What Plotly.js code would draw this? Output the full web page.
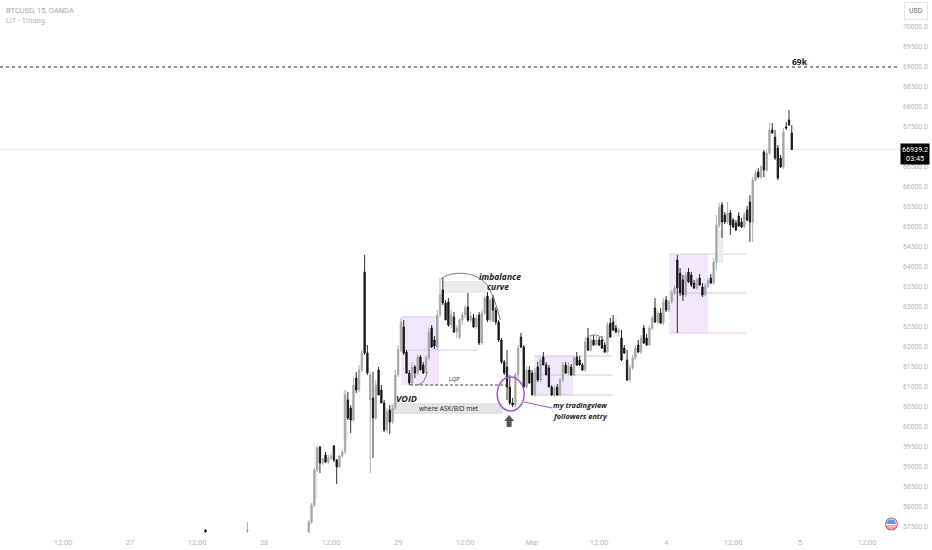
<!DOCTYPE html>
<html>
<head>
<meta charset="utf-8">
<title>BTCUSD, 15, OANDA</title>
<script src="https://cdn.plot.ly/plotly-3.0.1.min.js"></script>
<style>
  html, body { margin: 0; padding: 0; background: #fff; }
  #chart { width: 932px; height: 550px; }
</style>
</head>
<body>
<div id="chart"></div>
<script>
// hours counted from the "27" session label on the time axis (weekend is skipped)
const barHours = [13.5, 21,
  32, 32.5, 33, 33.5, 34, 34.5, 35, 35.5, 36, 36.5, 37, 37.5, 38, 38.5, 39, 39.5, 40, 40.5, 41, 41.5,
  42, 42.5, 43, 43.5, 44, 44.5, 45, 45.5, 46, 46.5, 47, 47.5, 48, 48.5, 49, 49.5, 50, 50.5, 51, 51.5,
  52, 52.5, 53, 53.5, 54, 54.5, 55, 55.5, 56, 56.5, 57, 57.5, 58, 58.5, 59, 59.5, 60, 60.5, 61, 61.5,
  62, 62.5, 63, 63.5, 64, 64.5, 65, 65.5, 66, 66.5, 67, 67.5, 68, 68.5, 69, 69.5, 70, 70.5, 71, 71.5,
  72, 72.5, 73, 73.5, 74, 74.5, 75, 75.5, 76, 76.5, 77, 77.5, 78, 78.5, 79, 79.5, 80, 80.5, 81, 81.5,
  82, 82.5, 83, 83.5, 84, 84.5, 85, 85.5, 86, 86.5, 87, 87.5, 88, 88.5, 89, 89.5, 90, 90.5, 91, 91.5,
  92, 92.5, 93, 93.5, 94, 94.5, 95, 95.5, 96, 96.5, 97, 97.5, 98, 98.5, 99, 99.5, 100, 100.5, 101, 101.5,
  102, 102.5, 103, 103.5, 104, 104.5, 105, 105.5, 106, 106.5, 107, 107.5, 108, 108.5, 109, 109.5, 110, 110.5, 111, 111.5,
  112, 112.5, 113, 113.5, 114, 114.5, 115, 115.5, 116, 116.5, 117, 117.5, 118, 118.5];

const opens = [57425, 57400,
  57375, 57625, 58050, 58925, 59500, 59100, 59300, 59125, 59225, 59525, 59175, 59000, 59275, 59375, 60675, 60475, 60175, 61225, 60925, 61425,
  63875, 61850, 60675, 60725, 60225, 61425, 60925, 60600, 59925, 60425, 60125, 60475, 61300, 61925, 62500, 61875, 61350, 61100, 61500, 61350,
  61750, 61550, 61375, 61725, 62475, 62175, 62000, 62800, 63425, 63100, 63125, 62550, 62750, 62375, 62250, 62675, 62800, 63000, 62675, 62725,
  62500, 62800, 62100, 62850, 63275, 62675, 63225, 62925, 62625, 62175, 61625, 61500, 61000, 60600, 60550, 61300, 62250, 62000, 61000, 61425,
  61350, 60800, 61500, 61175, 61750, 61550, 61475, 61000, 60800, 61000, 60800, 61175, 61550, 61350, 61500, 61300, 61750, 61675, 61550, 61425,
  62225, 61925, 62175, 62050, 62175, 62175, 62050, 61875, 62600, 62625, 62475, 62375, 62225, 61975, 61675, 61175, 61475, 61725, 62050, 61875,
  62475, 62225, 62050, 62475, 62975, 62625, 62850, 62600, 63175, 62925, 63125, 63350, 64175, 63850, 63675, 63300, 63875, 63800, 63600, 63475,
  63725, 63500, 63300, 63525, 63725, 63600, 64125, 65050, 65550, 65300, 65125, 65350, 65175, 65100, 65275, 65125, 65000, 65425, 65625, 65125,
  66175, 66375, 66250, 66875, 66425, 66850, 67425, 67250, 66975, 66725, 66500, 67500, 67675, 67350];

const highs = [57450, 57625,
  57675, 58100, 58975, 59525, 59525, 59225, 59375, 59300, 59325, 59550, 59200, 59300, 59425, 60925, 60875, 60550, 61225, 61375, 61550, 61925,
  64300, 62050, 61375, 61375, 61175, 61500, 61050, 60675, 60475, 60550, 60550, 61425, 62050, 62725, 62675, 61925, 61425, 61625, 61550, 61800,
  61800, 61625, 61800, 62475, 62550, 62275, 62925, 63725, 63725, 63175, 63225, 62925, 62875, 62550, 62725, 62875, 63050, 63350, 62875, 62825,
  62800, 62875, 62925, 63275, 63375, 63225, 63300, 63000, 62675, 62225, 61675, 61925, 61300, 60725, 61375, 62050, 62350, 62050, 61525, 61525,
  61425, 61475, 61625, 61725, 61875, 61625, 61550, 61050, 61050, 61075, 61225, 61625, 61625, 61625, 61575, 61775, 61875, 61775, 61600, 62225,
  62475, 62275, 62300, 62275, 62250, 62275, 62125, 62625, 62725, 62800, 62550, 62475, 62425, 62050, 61925, 61550, 61800, 62050, 62175, 62300,
  62550, 62325, 62550, 62800, 63225, 62925, 62975, 63225, 63275, 63175, 63425, 63550, 64300, 63975, 63800, 63875, 63975, 63875, 63675, 63725,
  63825, 63600, 63600, 63725, 63825, 64225, 65300, 65600, 65625, 65375, 65625, 65425, 65225, 65175, 65375, 65225, 65375, 65525, 65800, 66250,
  66425, 66475, 66550, 66925, 66925, 67600, 67600, 67425, 67050, 66800, 67475, 67625, 67925, 67550];

const lows = [57375, 57350,
  57350, 57575, 58000, 58875, 58850, 59050, 59100, 59075, 59175, 59125, 58575, 58975, 59225, 59325, 60175, 59850, 60125, 60850, 60875, 61375,
  61800, 61300, 58850, 59225, 60175, 60800, 60600, 59875, 59850, 59825, 60075, 60425, 61250, 61875, 61800, 61325, 61050, 61050, 61225, 61300,
  61425, 61325, 61325, 61675, 61975, 61950, 61925, 62750, 63050, 62675, 62500, 62475, 62350, 62225, 62200, 62550, 62725, 62625, 62625, 62475,
  62450, 62050, 62050, 62800, 62625, 62625, 62625, 62550, 62125, 61575, 61300, 60675, 60550, 60500, 60500, 61225, 61975, 60975, 60950, 61075,
  60800, 60750, 61125, 61125, 61550, 61300, 61000, 60775, 60750, 60775, 60775, 61125, 61325, 61300, 61275, 61275, 61525, 61525, 61400, 61375,
  61900, 61900, 62025, 62025, 62025, 61950, 61850, 61850, 62225, 62400, 62350, 62275, 61650, 61825, 61150, 61125, 61425, 61675, 61850, 61825,
  62075, 62025, 62025, 62425, 62600, 62575, 62575, 62550, 62875, 62875, 63075, 63300, 62350, 63275, 63150, 63250, 63600, 63500, 63450, 63425,
  63525, 63250, 63275, 63475, 63575, 63550, 63925, 64975, 64725, 65075, 65075, 64800, 64975, 64900, 65000, 64975, 64975, 65150, 64625, 64625,
  66125, 66225, 66200, 66250, 66375, 66800, 67325, 66675, 66175, 66475, 66450, 67425, 67525, 66925];

const closes = [57375, 57425,
  57625, 58050, 58925, 59475, 59100, 59200, 59125, 59225, 59275, 59175, 59000, 59275, 59375, 60800, 60225, 60175, 61050, 60925, 61425, 61850,
  61850, 61350, 61300, 60225, 61050, 60800, 60600, 59925, 60375, 60125, 60475, 61300, 61925, 62625, 61850, 61350, 61100, 61500, 61350, 61750,
  61425, 61350, 61725, 62375, 62000, 62025, 62800, 63300, 63100, 62675, 62550, 62800, 62375, 62475, 62675, 62800, 62975, 62675, 62775, 62500,
  62725, 62100, 62850, 63225, 62675, 63175, 62925, 62625, 62175, 61625, 61350, 61000, 60600, 60550, 61300, 61975, 62000, 61000, 61425, 61100,
  60800, 61375, 61175, 61675, 61550, 61300, 61000, 60800, 60975, 60800, 61175, 61550, 61350, 61525, 61300, 61725, 61550, 61550, 61425, 62125,
  61925, 62175, 62050, 62175, 62050, 61975, 61875, 62550, 62250, 62425, 62375, 62425, 61675, 61850, 61175, 61475, 61725, 61975, 61875, 62225,
  62100, 62050, 62475, 62725, 62625, 62850, 62600, 63125, 62925, 63125, 63350, 63475, 63475, 63350, 63300, 63800, 63625, 63550, 63475, 63675,
  63550, 63300, 63525, 63675, 63600, 64125, 65050, 65500, 65125, 65125, 65350, 65050, 65000, 64925, 65025, 65000, 65325, 65175, 65125, 66175,
  66350, 66250, 66500, 66425, 66850, 67425, 67350, 66725, 66225, 66500, 67375, 67475, 67550, 66939.2];

const priceTicks = [57500, 58000, 58500, 59000, 59500, 60000, 60500, 61000, 61500, 62000, 62500, 63000, 63500,
  64000, 64500, 65000, 65500, 66000, 66500, 67500, 68000, 68500, 69000, 69500, 70000];
const timeTicks = [-12, 0, 12, 24, 36, 48, 60, 72, 84, 96, 108, 120, 132];
const timeLabels = ["12:00", "27", "12:00", "28", "12:00", "29", "12:00", "Mar", "12:00", "4", "12:00", "5", "12:00"];

const targetPrice = 69000;
const lastPrice = 66939.2;

const grayColor = "#a6a6a6";
const blackColor = "#161616";
const tickColor = "#b4b4b4";
const handFont = { family: "Open Sans, sans-serif", color: "#222222" };

const trace = {
  type: "candlestick",
  x: barHours,
  open: opens,
  high: highs,
  low: lows,
  close: closes,
  whiskerwidth: 0,
  increasing: { line: { color: grayColor, width: 0.9 }, fillcolor: grayColor },
  decreasing: { line: { color: blackColor, width: 0.9 }, fillcolor: blackColor },
  hoverinfo: "skip",
};

function rect(x0, x1, y0, y1, fill) {
  return { type: "rect", layer: "below", x0, x1, y0, y1, fillcolor: fill, line: { width: 0 } };
}

function hline(x0, x1, y, color) {
  return { type: "line", layer: "below", x0, x1, y0: y, y1: y, line: { color, width: 1 } };
}

const shapes = [
  // 69k level and last price line
  { type: "line", xref: "paper", x0: 0, x1: 1, y0: targetPrice, y1: targetPrice, line: { color: "#222", width: 1, dash: "3px,3px" } },
  { type: "line", layer: "below", xref: "paper", x0: 0, x1: 1, y0: lastPrice, y1: lastPrice, line: { color: "#e9e9e9", width: 1 } },

  // liquidity boxes
  rect(48.54, 55.35, 61050, 62750, "#f1e7fb"),
  rect(72.36, 79.35, 60800, 61775, "#f1e7fb"),
  rect(96.54, 103.53, 62350, 64325, "#f3e8fb"),
  hline(48.54, 55.35, 62750, "#d5c3ee"),
  hline(48.54, 62.33, 61925, "#d9c8f0"),
  hline(72.36, 86.33, 61775, "#d5c3ee"),
  hline(72.36, 86.33, 61300, "#d5c3ee"),
  hline(72.36, 86.33, 60800, "#d5c3ee"),
  hline(96.54, 110.33, 64325, "#d8d0e0"),
  hline(96.54, 110.33, 63350, "#d5c3ee"),
  hline(96.54, 110.33, 62350, "#ecc6ea"),

  // gray zones
  rect(55.88, 63.59, 63350, 63650, "#ececec"),
  rect(46.75, 66.81, 60325, 60600, "#e4e4e4"),
  rect(32.96, 33.67, 58225, 59500, "#efefef"),
  rect(38.15, 39.05, 59675, 60925, "#f0f0f0"),
  rect(86.51, 87.23, 62250, 62725, "#efefef"),
  rect(105.3, 106.2, 64100, 64925, "#ececec"),

  // LQP level
  { type: "line", x0: 50.15, x1: 67.7, y0: 61050, y1: 61050, line: { color: "#444", width: 1, dash: "3px,2px" } },

  // curves
  { type: "path", path: "M 55.7 63700 C 57.32 63900 61.8 63925 63.94 63550 C 65.02 63300 65.91 62925 66.27 62675", line: { color: "#777", width: 1 } },
  { type: "path", path: "M 51.41 61050 C 52.48 61075 53.02 61225 53.2 61375", line: { color: "#777", width: 1 } },
  { type: "path", path: "M 81.68 62225 C 82.75 62350 84.18 62325 84.9 62150", line: { color: "#888", width: 1 } },

  // entry marker
  { type: "circle", x0: 65.74, x1: 70.57, y0: 60400, y1: 61250, line: { color: "#a455d6", width: 1.5 } },
  { type: "line", x0: 70.57, x1: 75.59, y0: 60625, y1: 60475, line: { color: "#a455d6", width: 1.2 } },
  { type: "path", path: "M 67.88 60300 L 68.78 60150 L 68.33 60150 L 68.33 60000 L 67.44 60000 L 67.44 60150 L 66.99 60150 Z", fillcolor: "#555", line: { width: 0 } },

  // flag badge
  { type: "circle", x0: 135.3, x1: 137.4, y0: 57425, y1: 57725, fillcolor: "#ffffff", line: { color: "#e0566a", width: 1.2 } },
  { type: "line", x0: 135.5, x1: 137.2, y0: 57525, y1: 57525, line: { color: "#e0566a", width: 1 } },
  { type: "line", x0: 135.6, x1: 137.1, y0: 57475, y1: 57475, line: { color: "#e0566a", width: 1 } },
  { type: "path", path: "M 135.5 57575 L 137.2 57575 C 137.1 57690 136.3 57720 135.9 57680 C 135.6 57650 135.5 57620 135.5 57575 Z", fillcolor: "#4f9fe0", line: { width: 0 } },
];

function note(x, y, text, size, extra) {
  return Object.assign({ x, y, text, showarrow: false, font: Object.assign({}, handFont, { size }) }, extra);
}

const annotations = [
  note(120, 69150, "<b>69k</b>", 8.5),
  note(66.27, 63775, "<b><i>imbalance</i></b>", 8.5),
  note(65.9, 63525, "<b><i>curve</i></b>", 8.5),
  note(49.43, 60725, "<b><i>VOID</i></b>", 9),
  note(58.03, 61200, "LQP", 5.5),
  note(57.14, 60463, "where ASK/BID met", 6.5),
  note(80.6, 60550, "<b><i>my tradingview</i></b>", 7.4),
  note(80.6, 60275, "<b><i>followers entry</i></b>", 7.4),

  // header text
  { xref: "paper", yref: "paper", x: 0.0045, y: 0.981, xanchor: "left", yanchor: "middle", showarrow: false, text: "BTCUSD, 15, OANDA", font: { family: "Roboto, sans-serif", size: 7.5, color: "#a8a8a8" } },
  { xref: "paper", yref: "paper", x: 0.0045, y: 0.961, xanchor: "left", yanchor: "middle", showarrow: false, text: "LiT - Timing", font: { family: "Roboto, sans-serif", size: 7.5, color: "#b4b4b4" } },

  // currency box and price tag
  { xref: "paper", yref: "paper", x: 1.0189, y: 0.98, xanchor: "center", yanchor: "middle", showarrow: false, text: "USD", font: { family: "Roboto, sans-serif", size: 7, color: "#666" }, bordercolor: "#e4e4e4", borderwidth: 1, borderpad: 4, bgcolor: "#fff" },
  { xref: "paper", yref: "y", x: 1.0173, y: 66837, xanchor: "center", yanchor: "middle", showarrow: false, text: "66939.2<br>03:45", align: "center", font: { family: "Roboto, sans-serif", size: 7.2, color: "#fff" }, bgcolor: "#000", borderpad: 1 },
];

const layout = {
  width: 932,
  height: 550,
  margin: { l: 0, r: 33, t: 0, b: 17 },
  paper_bgcolor: "#ffffff",
  plot_bgcolor: "#ffffff",
  showlegend: false,
  xaxis: {
    range: [-23.3, 137.7],
    rangeslider: { visible: false },
    tickmode: "array",
    tickvals: timeTicks,
    ticktext: timeLabels,
    showgrid: false,
    zeroline: false,
    showline: false,
    ticks: "",
    ticklabelstandoff: 3,
    tickfont: { family: "Roboto, sans-serif", size: 7.5, color: tickColor },
  },
  yaxis: {
    side: "right",
    range: [57350, 70675],
    tickmode: "array",
    tickvals: priceTicks,
    tickformat: ".1f",
    showgrid: false,
    zeroline: false,
    showline: false,
    ticks: "",
    ticklabelstandoff: 3,
    tickfont: { family: "Roboto, sans-serif", size: 6.8, color: tickColor },
  },
  shapes,
  annotations,
};

Plotly.newPlot("chart", [trace], layout, { displayModeBar: false, staticPlot: true });
</script>
</body>
</html>
